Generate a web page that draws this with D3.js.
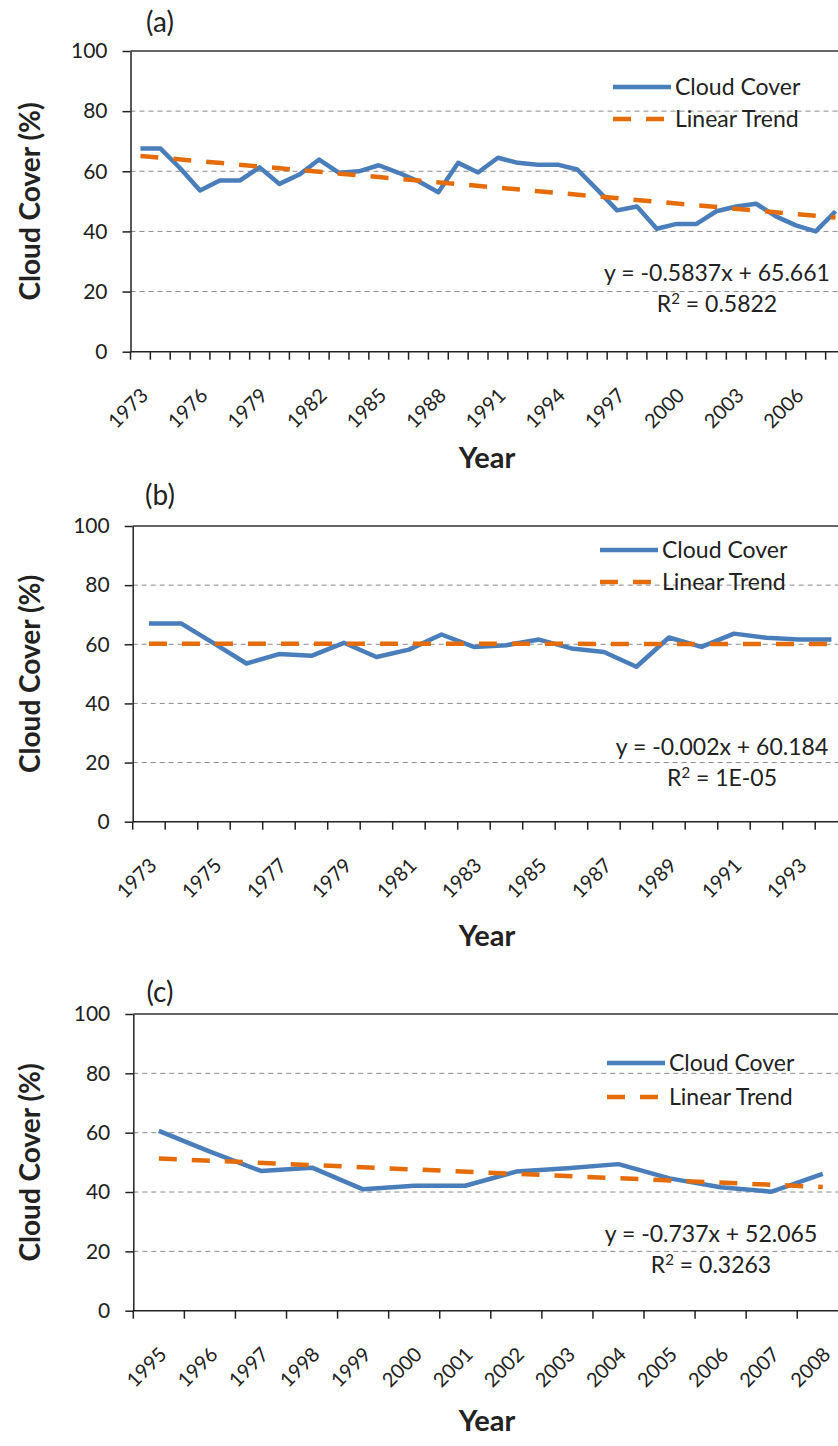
<!DOCTYPE html>
<meta charset="utf-8">
<style>
body { margin: 0; background: #fff; }
svg text { font-family: Lato, "Open Sans", sans-serif; fill: #222; }
</style>

<div id="chart"></div>

<script src="https://d3js.org/d3.v7.min.js"></script>
<script>

// ---- data ----
var yearsA = [1973,1974,1975,1976,1977,1978,1979,1980,1981,1982,1983,1984,1985,1986,1987,1988,1989,1990,
              1991,1992,1993,1994,1995,1996,1997,1998,1999,2000,2001,2002,2003,2004,2005,2006,2007,2008];
var cloudA = [67.6,67.6,61.0,53.6,56.9,56.9,61.3,55.8,58.9,63.9,59.5,60.0,62.0,59.5,56.7,53.0,62.8,59.6,
              64.5,62.8,62.2,62.2,60.6,53.9,47.0,48.3,40.9,42.5,42.5,46.7,48.3,49.2,45.0,42.0,40.0,46.7];
var trendA = [65.1, 44.6];          // trend line at first / last year
var labelsA = [1973,1976,1979,1982,1985,1988,1991,1994,1997,2000,2003,2006];

var yearsB = [1973,1974,1975,1976,1977,1978,1979,1980,1981,1982,1983,1984,1985,1986,1987,1988,1989,1990,
              1991,1992,1993,1994];
var cloudB = [67.0,67.0,60.3,53.5,56.7,56.1,60.5,55.7,58.2,63.3,59.1,59.7,61.6,58.6,57.4,52.4,62.3,59.1,
              63.6,62.2,61.6,61.6];
var trendB = [60.2, 60.1];
var labelsB = [1973,1975,1977,1979,1981,1983,1985,1987,1989,1991,1993];

var yearsC = [1995,1996,1997,1998,1999,2000,2001,2002,2003,2004,2005,2006,2007,2008];
var cloudC = [60.6,53.6,47.1,48.2,40.9,42.1,42.1,46.9,48.0,49.4,44.6,41.6,40.1,46.1];
var trendC = [51.3, 41.7];
var labelsC = yearsC;

var yTicks = [0, 20, 40, 60, 80, 100];
var gridTicks = [20, 40, 60, 80];
var seriesNames = ["Cloud Cover", "Linear Trend"];

// ---- layout ----
var W = 838, H = 1446, plotW = 715;
var blue = "#4a7ebb", orange = "#e46c0a";

var panels = [
  {tag: "(a)", years: yearsA, cloud: cloudA, trend: trendA, labels: labelsA,
   eq: "y = -0.5837x + 65.661", r2: "0.5822",
   x0: 130.5, top: 51, bottom: 351.7, tagY: 32,
   leg: {x: 613, y1: 87, y2: 119}, eqPos: {x: 717, y: 281}, yearY: 468},
  {tag: "(b)", years: yearsB, cloud: cloudB, trend: trendB, labels: labelsB,
   eq: "y = -0.002x + 60.184", r2: "1E-05",
   x0: 132.7, top: 526, bottom: 821.7, tagY: 505,
   leg: {x: 600, y1: 550, y2: 582}, eqPos: {x: 722, y: 755}, yearY: 946},
  {tag: "(c)", years: yearsC, cloud: cloudC, trend: trendC, labels: labelsC,
   eq: "y = -0.737x + 52.065", r2: "0.3263",
   x0: 133.3, top: 1014, bottom: 1310.7, tagY: 1002,
   leg: {x: 607, y1: 1063, y2: 1097}, eqPos: {x: 711, y: 1242}, yearY: 1431}
];

var svg = d3.select("#chart").append("svg")
    .attr("width", W)
    .attr("height", H)
    .style("display", "block");

panels.forEach(drawPanel);

function drawPanel(p) {
  var g = svg.append("g");

  var x = d3.scaleBand().domain(p.years).range([p.x0, p.x0 + plotW]);
  var y = d3.scaleLinear().domain([0, 100]).range([p.bottom, p.top]);
  var cx = function(d) { return x(d) + x.bandwidth() / 2; };

  // dashed gridlines
  g.selectAll(".grid").data(gridTicks).join("line")
    .attr("x1", p.x0).attr("x2", W)
    .attr("y1", function(d) { return y(d); })
    .attr("y2", function(d) { return y(d); })
    .attr("stroke", "#8a8a8a")
    .attr("stroke-width", 1)
    .attr("stroke-dasharray", "5,4");

  // top frame line
  g.append("line")
    .attr("x1", p.x0).attr("x2", W)
    .attr("y1", y(100)).attr("y2", y(100))
    .attr("stroke", "#333").attr("stroke-width", 1.5);

  // y axis
  var ya = g.append("g")
    .attr("transform", "translate(" + p.x0 + ",0)")
    .call(d3.axisLeft(y).tickValues(yTicks).tickSize(8).tickSizeOuter(0).tickPadding(15));
  ya.select(".domain").attr("stroke", "#222").attr("stroke-width", 1.5);
  ya.selectAll(".tick line").attr("stroke", "#222").attr("stroke-width", 1.5);
  ya.selectAll("text")
    .style("font-family", "Lato, sans-serif")
    .style("font-size", "21px")
    .attr("fill", "#333");

  // x axis line + tick marks between categories
  g.append("line")
    .attr("x1", p.x0).attr("x2", W)
    .attr("y1", y(0)).attr("y2", y(0))
    .attr("stroke", "#222").attr("stroke-width", 1.5);
  g.selectAll(".xtick").data(p.years).join("line")
    .attr("x1", function(d) { return x(d); })
    .attr("x2", function(d) { return x(d); })
    .attr("y1", y(0)).attr("y2", y(0) + 8)
    .attr("stroke", "#222").attr("stroke-width", 1.5);

  // rotated year labels
  var xa = g.append("g")
    .attr("transform", "translate(0," + y(0) + ")")
    .call(d3.axisBottom(x).tickValues(p.labels).tickSize(0));
  xa.select(".domain").remove();
  xa.selectAll("text")
    .attr("x", 0).attr("y", 0).attr("dy", 0)
    .attr("text-anchor", "end")
    .attr("transform", "translate(9,45) rotate(-45)")
    .style("font-family", "Lato, sans-serif")
    .style("font-size", "20px")
    .attr("fill", "#333");

  // cloud cover series
  var pts = p.years.map(function(d, i) { return {year: d, v: p.cloud[i]}; });
  g.append("path")
    .datum(pts)
    .attr("fill", "none")
    .attr("stroke", blue)
    .attr("stroke-width", 4.5)
    .attr("stroke-linejoin", "round")
    .attr("d", d3.line().x(function(d) { return cx(d.year); }).y(function(d) { return y(d.v); }));

  // linear trend
  var first = p.years[0], last = p.years[p.years.length - 1];
  g.append("line")
    .attr("x1", cx(first)).attr("y1", y(p.trend[0]))
    .attr("x2", cx(last)).attr("y2", y(p.trend[1]))
    .attr("stroke", orange)
    .attr("stroke-width", 4.5)
    .attr("stroke-dasharray", "18,15");

  // legend
  g.append("line")
    .attr("x1", p.leg.x).attr("x2", p.leg.x + 58)
    .attr("y1", p.leg.y1).attr("y2", p.leg.y1)
    .attr("stroke", blue).attr("stroke-width", 4.5);
  g.append("line")
    .attr("x1", p.leg.x).attr("x2", p.leg.x + 54)
    .attr("y1", p.leg.y2).attr("y2", p.leg.y2)
    .attr("stroke", orange).attr("stroke-width", 4.5)
    .attr("stroke-dasharray", "18,15");
  g.append("text")
    .attr("x", p.leg.x + 62).attr("y", p.leg.y1 + 8)
    .style("font-size", "23px")
    .text(seriesNames[0]);
  g.append("text")
    .attr("x", p.leg.x + 62).attr("y", p.leg.y2 + 8)
    .style("font-size", "23px")
    .text(seriesNames[1]);

  // trend equation
  g.append("text")
    .attr("x", p.eqPos.x).attr("y", p.eqPos.y)
    .attr("text-anchor", "middle")
    .style("font-size", "23px")
    .text(p.eq);
  var r = g.append("text")
    .attr("x", p.eqPos.x).attr("y", p.eqPos.y + 31)
    .attr("text-anchor", "middle")
    .style("font-size", "23px");
  r.append("tspan").text("R");
  r.append("tspan").attr("dy", -8).style("font-size", "15px").text("2");
  r.append("tspan").attr("dy", 8).text(" = " + p.r2);

  // titles
  g.append("text")
    .attr("x", 160).attr("y", p.tagY)
    .attr("text-anchor", "middle")
    .style("font-size", "28px")
    .text(p.tag);

  g.append("text")
    .attr("transform", "translate(40," + ((p.top + p.bottom) / 2) + ") rotate(-90)")
    .attr("text-anchor", "middle")
    .style("font-size", "28px")
    .style("font-weight", "bold")
    .text("Cloud Cover (%)");

  g.append("text")
    .attr("x", 487).attr("y", p.yearY)
    .attr("text-anchor", "middle")
    .style("font-size", "29px")
    .style("font-weight", "bold")
    .text("Year");
}

</script>
